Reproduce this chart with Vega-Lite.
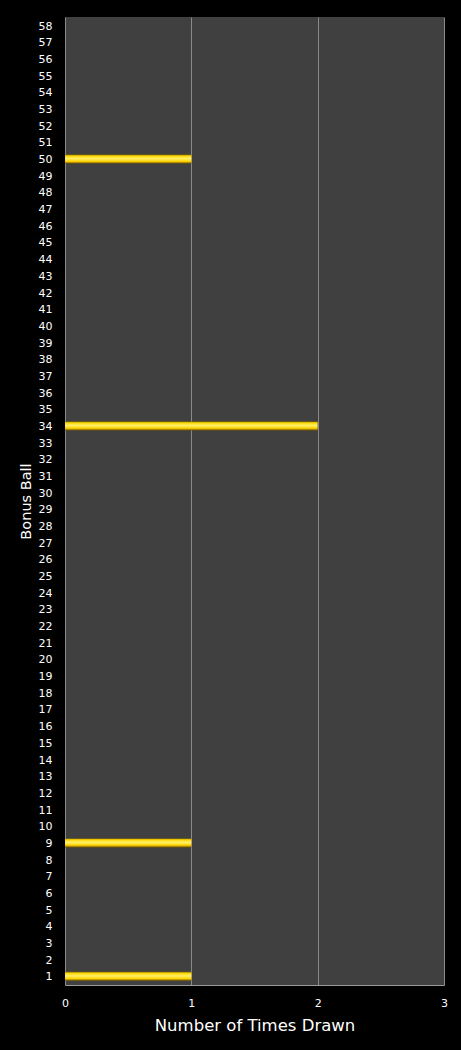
{
  "$schema": "https://vega.github.io/schema/vega-lite/v6.json",
  "autosize": "none",
  "width": 379,
  "height": 968,
  "padding": {"left": 65, "top": 17, "right": 17, "bottom": 65},
  "background": "#000000",
  "config": {
    "view": {"fill": "#404040", "stroke": null},
    "font": "DejaVu Sans"
  },
  "data": {
    "values": [
      {"ball": 1, "count": 1}, {"ball": 2, "count": 0}, {"ball": 3, "count": 0}, {"ball": 4, "count": 0},
      {"ball": 5, "count": 0}, {"ball": 6, "count": 0}, {"ball": 7, "count": 0}, {"ball": 8, "count": 0},
      {"ball": 9, "count": 1}, {"ball": 10, "count": 0}, {"ball": 11, "count": 0}, {"ball": 12, "count": 0},
      {"ball": 13, "count": 0}, {"ball": 14, "count": 0}, {"ball": 15, "count": 0}, {"ball": 16, "count": 0},
      {"ball": 17, "count": 0}, {"ball": 18, "count": 0}, {"ball": 19, "count": 0}, {"ball": 20, "count": 0},
      {"ball": 21, "count": 0}, {"ball": 22, "count": 0}, {"ball": 23, "count": 0}, {"ball": 24, "count": 0},
      {"ball": 25, "count": 0}, {"ball": 26, "count": 0}, {"ball": 27, "count": 0}, {"ball": 28, "count": 0},
      {"ball": 29, "count": 0}, {"ball": 30, "count": 0}, {"ball": 31, "count": 0}, {"ball": 32, "count": 0},
      {"ball": 33, "count": 0}, {"ball": 34, "count": 2}, {"ball": 35, "count": 0}, {"ball": 36, "count": 0},
      {"ball": 37, "count": 0}, {"ball": 38, "count": 0}, {"ball": 39, "count": 0}, {"ball": 40, "count": 0},
      {"ball": 41, "count": 0}, {"ball": 42, "count": 0}, {"ball": 43, "count": 0}, {"ball": 44, "count": 0},
      {"ball": 45, "count": 0}, {"ball": 46, "count": 0}, {"ball": 47, "count": 0}, {"ball": 48, "count": 0},
      {"ball": 49, "count": 0}, {"ball": 50, "count": 1}, {"ball": 51, "count": 0}, {"ball": 52, "count": 0},
      {"ball": 53, "count": 0}, {"ball": 54, "count": 0}, {"ball": 55, "count": 0}, {"ball": 56, "count": 0},
      {"ball": 57, "count": 0}, {"ball": 58, "count": 0}
    ]
  },
  "mark": {
    "type": "bar",
    "color": {
      "gradient": "linear",
      "x1": 0, "y1": 0, "x2": 0, "y2": 1,
      "stops": [
        {"offset": 0, "color": "#8a6e00"},
        {"offset": 0.15, "color": "#ffd800"},
        {"offset": 0.45, "color": "#fff06a"},
        {"offset": 0.75, "color": "#ffd400"},
        {"offset": 1, "color": "#6e5200"}
      ]
    }
  },
  "encoding": {
    "y": {
      "field": "ball",
      "type": "ordinal",
      "sort": "descending",
      "scale": {"paddingInner": 0.46, "paddingOuter": 0.25},
      "axis": {
        "title": "Bonus Ball",
        "titleColor": "#ffffff",
        "titleFontSize": 14.5,
        "titleFontWeight": "normal",
        "titlePadding": 5,
        "labelColor": "#ffffff",
        "labelFontSize": 11,
        "labelPadding": 13,
        "labelBaseline": "middle",
        "labelOffset": 1,
        "ticks": false,
        "domain": false,
        "grid": false
      }
    },
    "x": {
      "field": "count",
      "type": "quantitative",
      "scale": {"domain": [0, 3], "nice": false},
      "axis": {
        "title": "Number of Times Drawn",
        "titleColor": "#ffffff",
        "titleFontSize": 16.5,
        "titleFontWeight": "normal",
        "titlePadding": 9,
        "labelColor": "#ffffff",
        "labelFontSize": 11,
        "labelPadding": 12,
        "values": [0, 1, 2, 3],
        "format": "d",
        "ticks": false,
        "domain": true,
        "domainColor": "#9a9a9a",
        "grid": true,
        "gridColor": "#8a8a8a",
        "gridOpacity": 1,
        "labelFlush": false
      }
    }
  }
}
